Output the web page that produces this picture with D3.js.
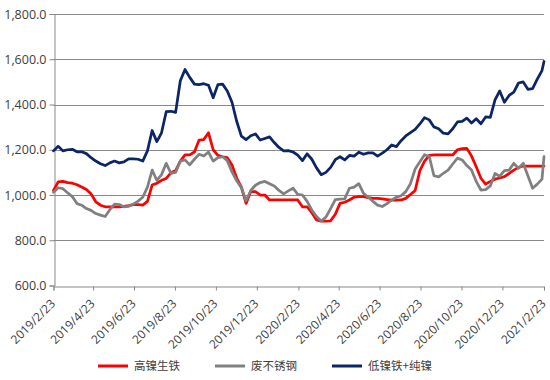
<!DOCTYPE html>
<html>
<head>
<meta charset="utf-8">
<script src="https://cdn.jsdelivr.net/npm/d3@7"></script>
<style>
  html, body { margin: 0; padding: 0; background: #fff; }
  svg { display: block; }
</style>
</head>
<body>
<svg id="chart" width="550" height="380"></svg>
<script>
// ---------------- DATA ----------------
const seriesNames = ["高镍生铁", "废不锈钢", "低镍铁+纯镍"];
const startDate = new Date(2019, 1, 23);
const endDate = new Date(2021, 1, 23);
// weekly observation dates (105 weeks) plus the final day
const dates = d3.range(105).map(i => d3.timeDay.offset(startDate, 7 * i)).concat([endDate]);

const highNickelPigIron = [
  1020,1058,1060,1055,1052,1045,1035,1024,1005,970,
  955,948,948,948,948,950,953,957,958,955,
  972,1044,1052,1065,1073,1098,1108,1150,1177,1177,
  1190,1243,1245,1275,1200,1175,1169,1165,1133,1075,
  1035,963,1015,1015,1000,1000,978,978,978,978,
  978,978,978,948,948,922,890,884,884,886,
  915,963,968,978,990,993,993,988,985,985,
  983,980,977,977,978,985,1002,1020,1108,1150,
  1175,1177,1177,1177,1177,1177,1200,1205,1206,1172,
  1125,1074,1048,1060,1070,1075,1081,1095,1110,1122,
  1128,1128,1128,1128,1128,1128
];
const scrapStainless = [
  1012,1032,1028,1010,993,962,955,940,932,918,
  911,905,935,960,958,948,950,960,973,990,
  1035,1110,1065,1090,1140,1096,1100,1150,1155,1133,
  1158,1180,1172,1190,1150,1165,1169,1152,1102,1063,
  1032,975,1020,1043,1055,1060,1050,1040,1020,1005,
  1018,1030,1003,1000,972,934,905,885,902,940,
  980,982,983,1030,1035,1050,1007,990,972,955,
  949,962,978,990,997,1015,1050,1115,1147,1178,
  1170,1085,1080,1096,1110,1137,1163,1155,1130,1110,
  1060,1022,1024,1040,1095,1083,1108,1110,1140,1118,
  1140,1085,1030,1048,1070,1170
];
const lowNickelPlusPure = [
  1195,1215,1195,1200,1202,1191,1191,1183,1165,1150,
  1138,1130,1142,1150,1142,1146,1160,1160,1158,1150,
  1195,1285,1236,1275,1368,1370,1365,1505,1555,1520,
  1490,1488,1492,1485,1430,1488,1490,1460,1410,1326,
  1260,1245,1262,1270,1243,1250,1257,1232,1210,1195,
  1196,1190,1176,1152,1182,1158,1120,1090,1100,1122,
  1156,1169,1155,1175,1172,1189,1180,1186,1186,1172,
  1185,1200,1221,1214,1240,1261,1276,1290,1314,1342,
  1332,1301,1293,1273,1270,1293,1323,1325,1340,1318,
  1337,1315,1345,1343,1420,1460,1410,1440,1455,1495,
  1500,1467,1470,1512,1550,1590
];
const yTickValues = [600, 800, 1000, 1200, 1400, 1600, 1800];
const xTickDates = [
  new Date(2019,1,23), new Date(2019,3,23), new Date(2019,5,23), new Date(2019,7,23),
  new Date(2019,9,23), new Date(2019,11,23), new Date(2020,1,23), new Date(2020,3,23),
  new Date(2020,5,23), new Date(2020,7,23), new Date(2020,9,23), new Date(2020,11,23),
  new Date(2021,1,23)
];
const seriesColors = ["#ff0000", "#808080", "#0b2566"];

// ---------------- CHART ----------------
const svg = d3.select("#chart");
const plotLeft = 53.5, plotRight = 544, plotTop = 14, plotBottom = 285.5;

const x = d3.scaleTime().domain([startDate, endDate]).range([plotLeft, plotRight]);
const y = d3.scaleLinear().domain([600, 1800]).range([plotBottom, plotTop]);

const gridColor = "#898989";
const textColor = "#404040";

// gridlines
svg.append("g").selectAll("line").data(yTickValues.filter(v => v > 600)).join("line")
  .attr("x1", plotLeft).attr("x2", plotRight)
  .attr("y1", d => Math.round(y(d)) + 0.5).attr("y2", d => Math.round(y(d)) + 0.5)
  .attr("stroke", gridColor).attr("stroke-width", 1);

// y axis
const yAxis = svg.append("g")
  .attr("transform", `translate(${Math.round(plotLeft) + 0.5},0)`)
  .call(d3.axisLeft(y).tickValues(yTickValues).tickFormat(d3.format(",.1f")).tickSize(5).tickPadding(3));
yAxis.select(".domain").attr("stroke", gridColor);
yAxis.selectAll(".tick line").attr("stroke", gridColor);
yAxis.selectAll("text").attr("fill", textColor)
  .style("font-family", "'Open Sans', sans-serif").style("font-size", "12.5px");

// x axis
const xAxis = svg.append("g")
  .attr("transform", `translate(0,${Math.round(plotBottom) + 0.5})`)
  .call(d3.axisBottom(x).tickValues(xTickDates).tickSize(4)
    .tickFormat(d => `${d.getFullYear()}/${d.getMonth() + 1}/${d.getDate()}`));
xAxis.select(".domain").attr("stroke", gridColor);
xAxis.selectAll(".tick line").attr("stroke", gridColor);
xAxis.selectAll("text")
  .attr("fill", textColor)
  .style("font-family", "'Open Sans', sans-serif").style("font-size", "12px")
  .attr("text-anchor", "end")
  .attr("dy", null)
  .attr("y", 0)
  .attr("transform", "translate(2,18) rotate(-45)");

// series lines
const allSeries = [highNickelPigIron, scrapStainless, lowNickelPlusPure];
const line = d3.line().x((d, i) => x(dates[i])).y(d => y(d)).curve(d3.curveLinear);
allSeries.forEach((vals, k) => {
  svg.append("path")
    .datum(vals)
    .attr("d", line)
    .attr("fill", "none")
    .attr("stroke", seriesColors[k])
    .attr("stroke-width", 2.75)
    .attr("stroke-linejoin", "round")
    .attr("stroke-linecap", "round");
});

// legend
const legendX = [98, 215, 332];
const legendY = 366;
const lg = svg.append("g");
seriesNames.forEach((name, k) => {
  lg.append("line")
    .attr("x1", legendX[k]).attr("x2", legendX[k] + 30)
    .attr("y1", legendY).attr("y2", legendY)
    .attr("stroke", seriesColors[k]).attr("stroke-width", 3);
  lg.append("text")
    .attr("x", legendX[k] + 36).attr("y", legendY)
    .attr("dy", "0.35em")
    .attr("fill", textColor)
    .style("font-family", "'Noto Sans CJK SC', sans-serif")
    .style("font-size", "11.5px")
    .text(name);
});
</script>
</body>
</html>
